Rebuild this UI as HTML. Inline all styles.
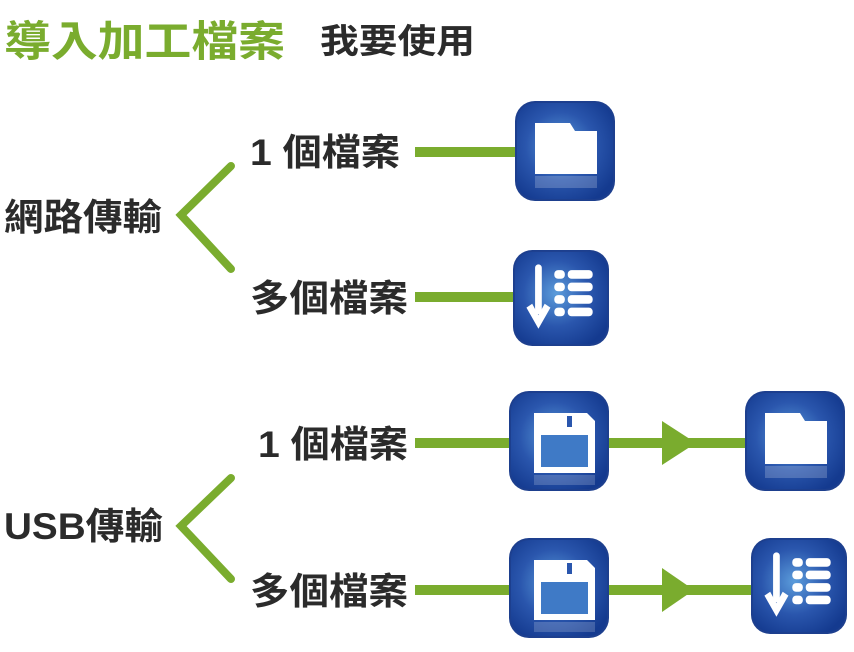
<!DOCTYPE html>
<html><head><meta charset="utf-8"><style>
body{margin:0;background:#fff;width:854px;height:647px;overflow:hidden}
svg text{font-family:"Liberation Sans","Noto Sans CJK TC",sans-serif;font-weight:bold}
</style></head><body>
<svg width="854" height="647" viewBox="0 0 854 647" xmlns="http://www.w3.org/2000/svg">
<defs>
<radialGradient id="bg" cx="0.45" cy="0.45" r="0.65">
<stop offset="0" stop-color="#5b9cdb"/><stop offset="0.55" stop-color="#2a56ad"/><stop offset="1" stop-color="#143a8f"/>
</radialGradient>
<g id="box"><rect x="0" y="0" width="100" height="100" rx="20" fill="#1d3f8e"/><rect x="2" y="2" width="96" height="96" rx="18" fill="url(#bg)"/></g>
<g id="folder"><use href="#box"/><path d="M20 22 H55 L60 30 H82 V73 H20 Z" fill="#fff"/><rect x="20" y="75" width="62" height="12" fill="#fff" opacity="0.2"/></g>
<g id="floppy"><use href="#box"/><path d="M25 22 H78 L86 30 V82 H25 Z" fill="#fff"/><rect x="32" y="44" width="47" height="32" fill="#3f7ac6"/><rect x="36" y="22" width="32" height="16" fill="#fff"/><rect x="34" y="24" width="2" height="0" fill="#fff"/><rect x="58" y="25" width="5" height="11" fill="#2a56ad"/><rect x="25" y="84" width="61" height="10" fill="#fff" opacity="0.18"/></g>
<g id="list"><use href="#box"/><rect x="23" y="15" width="7" height="52" rx="3.5" fill="#fff"/><path d="M14 60 L26.5 82 L39 60 L33 56 L26.5 68 L20 56Z" fill="#fff"/><g fill="#fff"><rect x="43" y="21" width="11" height="9" rx="4"/><rect x="57" y="21" width="26" height="9" rx="4"/><rect x="43" y="34" width="11" height="9" rx="4"/><rect x="57" y="34" width="26" height="9" rx="4"/><rect x="43" y="47" width="11" height="9" rx="4"/><rect x="57" y="47" width="26" height="9" rx="4"/><rect x="43" y="60" width="11" height="9" rx="4"/><rect x="57" y="60" width="26" height="9" rx="4"/></g></g>
</defs>
<text x="4" y="56" font-size="42" fill="#7aac2e" textLength="281" lengthAdjust="spacingAndGlyphs">導入加工檔案</text>
<text x="320" y="53" font-size="34" fill="#2b2b2b" textLength="155" lengthAdjust="spacingAndGlyphs">我要使用</text>
<g fill="none" stroke="#7aac2e" stroke-width="8" stroke-linecap="round" stroke-linejoin="miter">
<polyline points="231,166 181,215 231,269"/>
<polyline points="231,478 181,526 231,579"/>
</g>
<g stroke="#7aac2e" stroke-width="10">
<line x1="415" y1="152" x2="520" y2="152"/>
<line x1="415" y1="297" x2="518" y2="297"/>
<line x1="415" y1="443" x2="750" y2="443"/>
<line x1="415" y1="590" x2="755" y2="590"/>
</g>
<g fill="#7aac2e"><polygon points="662,421 696,443 662,465"/><polygon points="662,568 694,590 662,612"/></g>
<g font-size="37" fill="#2b2b2b">
<text x="250" y="165" textLength="150" lengthAdjust="spacingAndGlyphs">1 個檔案</text>
<text x="4" y="230" textLength="158" lengthAdjust="spacingAndGlyphs">網路傳輸</text>
<text x="250" y="311" textLength="158" lengthAdjust="spacingAndGlyphs">多個檔案</text>
<text x="258" y="457" textLength="150" lengthAdjust="spacingAndGlyphs">1 個檔案</text>
<text x="4" y="539" textLength="159" lengthAdjust="spacingAndGlyphs">USB傳輸</text>
<text x="250" y="604" textLength="158" lengthAdjust="spacingAndGlyphs">多個檔案</text>
</g>
<use href="#folder" transform="translate(515,101)"/>
<use href="#list" transform="translate(513,250) scale(0.96)"/>
<use href="#floppy" transform="translate(509,391)"/>
<use href="#folder" transform="translate(745,391)"/>
<use href="#floppy" transform="translate(509,538)"/>
<use href="#list" transform="translate(751,538) scale(0.96)"/>
</svg>
</body></html>
